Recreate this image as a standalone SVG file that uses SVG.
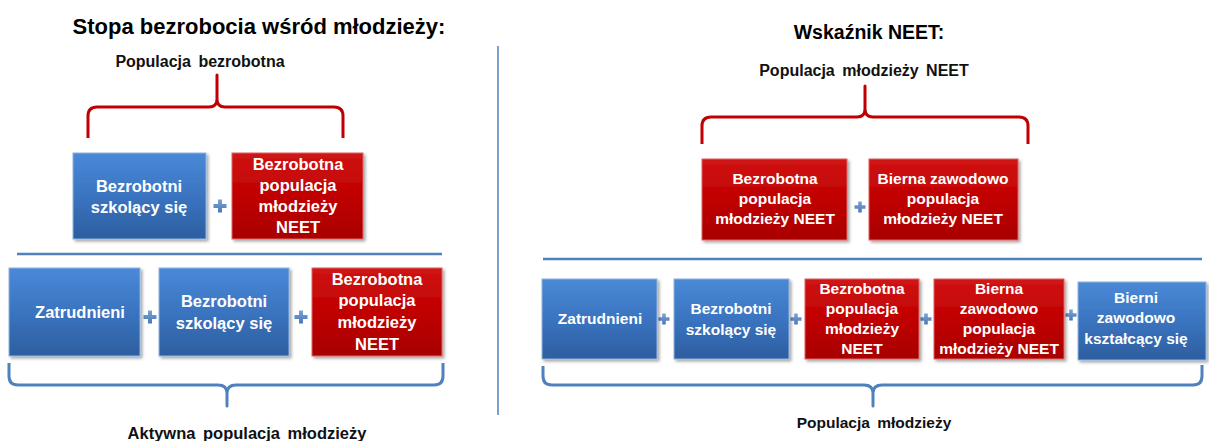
<svg xmlns="http://www.w3.org/2000/svg" width="1209" height="441" viewBox="0 0 1209 441">
<style>
  text { font-family: "Liberation Sans", Arial, sans-serif; font-weight: bold; }
  .title { font-size: 22px; fill: #000; }
  .label { font-size: 16px; fill: #111; word-spacing: 3px; }
  .bt { font-size: 16.5px; fill: #fff; text-anchor: middle; }
  .bs { font-size: 15.5px; fill: #fff; text-anchor: middle; }
  .blue { fill: url(#gBlue); stroke: #8fb4e3; stroke-width: 1; filter: url(#sh); }
  .red { fill: url(#gRed); stroke: #e06060; stroke-width: 1; filter: url(#sh); }
  .braceR { fill: none; stroke: #c00000; stroke-width: 3; stroke-linejoin: round; }
  .braceB { fill: none; stroke: #4f81bd; stroke-width: 3; stroke-linejoin: round; }
  .sep { stroke: #4f81bd; stroke-width: 2.5; }
  .plus { fill: url(#gPlus); }
</style>
<defs>
  <linearGradient id="gBlue" x1="0" y1="0" x2="0" y2="1">
    <stop offset="0" stop-color="#4a89d6"/>
    <stop offset="0.5" stop-color="#3a74c0"/>
    <stop offset="1" stop-color="#2d5e9f"/>
  </linearGradient>
  <linearGradient id="gRed" x1="0" y1="0" x2="0" y2="1">
    <stop offset="0" stop-color="#d01414"/>
    <stop offset="0.5" stop-color="#c00000"/>
    <stop offset="1" stop-color="#a80000"/>
  </linearGradient>
  <linearGradient id="gPlus" x1="0" y1="0" x2="0" y2="1">
    <stop offset="0" stop-color="#7aa3d6"/>
    <stop offset="1" stop-color="#4a78b5"/>
  </linearGradient>
  <filter id="sh" x="-10%" y="-10%" width="125%" height="130%">
    <feDropShadow dx="2" dy="2" stdDeviation="1.5" flood-color="#000" flood-opacity="0.35"/>
  </filter>
  <path id="plus" d="M-6.5,-2 H-2 V-6.5 H2 V-2 H6.5 V2 H2 V6.5 H-2 V2 H-6.5 Z"/>
  <path id="plusS" d="M-5.5,-1.8 H-1.8 V-5.5 H1.8 V-1.8 H5.5 V1.8 H1.8 V5.5 H-1.8 V1.8 H-5.5 Z"/>
</defs>

<rect x="0" y="0" width="1209" height="441" fill="#fff"/>

<!-- Titles and labels -->
<g id="titles">
  <text class="title" x="259" y="34" text-anchor="middle">Stopa bezrobocia wśród młodzieży:</text>
  <text class="label" x="200" y="67" text-anchor="middle">Populacja bezrobotna</text>
  <text class="label" x="247" y="439" text-anchor="middle" style="font-size:16.5px">Aktywna populacja młodzieży</text>
  <text class="title" x="869" y="39" text-anchor="middle" style="font-size:19.5px">Wskaźnik NEET:</text>
  <text class="label" x="864" y="76" text-anchor="middle">Populacja młodzieży NEET</text>
  <text class="label" x="874" y="428" text-anchor="middle" style="font-size:15.5px">Populacja młodzieży</text>
</g>

<!-- Connectors: braces, separators, operators -->
<g id="connectors">
  <line x1="498" y1="46" x2="498" y2="415" stroke="#4f81bd" stroke-width="1.5"/>
  <line class="sep" x1="17" y1="254" x2="442" y2="254"/>
  <line class="sep" x1="543" y1="259" x2="1202" y2="259"/>
  <path class="braceR" d="M88,138 V116 Q88,107 97,107 H209 Q217,107 217,99 V75 V99 Q217,107 225,107 H334 Q343,107 343,116 V138"/>
  <path class="braceR" d="M702,144 V126 Q702,117 711,117 H857 Q865,117 865,109 V86 V109 Q865,117 873,117 H1019 Q1028,117 1028,126 V144"/>
  <path class="braceB" d="M9,363 V376 Q9,385 18,385 H218 Q227,385 227,393 V406 V393 Q227,385 236,385 H434 Q443,385 443,376 V363"/>
  <path class="braceB" d="M543,366 V376 Q543,385 552,385 H864 Q873,385 873,393 V406 V393 Q873,385 882,385 H1193 Q1202,385 1202,376 V365"/>
  <use href="#plus" class="plus" x="220" y="206"/>
  <use href="#plus" class="plus" x="150" y="317"/>
  <use href="#plus" class="plus" x="301" y="317"/>
  <use href="#plusS" class="plus" x="860" y="207"/>
  <use href="#plusS" class="plus" x="664" y="319"/>
  <use href="#plusS" class="plus" x="796" y="319"/>
  <use href="#plusS" class="plus" x="926" y="319"/>
  <use href="#plusS" class="plus" x="1071" y="315"/>
</g>

<!-- Left side, row 1 -->
<g id="l1-bezrobotni">
  <rect class="blue" x="73" y="153" width="133" height="86"/>
  <text class="bt" x="139" y="192">Bezrobotni</text>
  <text class="bt" x="139" y="213">szkolący się</text>
</g>
<g id="l1-neet">
  <rect class="red" x="232" y="153" width="131" height="86"/>
  <text class="bt" x="298" y="170">Bezrobotna</text>
  <text class="bt" x="298" y="191">populacja</text>
  <text class="bt" x="298" y="212">młodzieży</text>
  <text class="bt" x="298" y="233">NEET</text>
</g>

<!-- Left side, row 2 -->
<g id="l2-zatrudnieni">
  <rect class="blue" x="9" y="268" width="131" height="88"/>
  <text class="bt" x="80" y="318">Zatrudnieni</text>
</g>
<g id="l2-bezrobotni">
  <rect class="blue" x="159" y="268" width="130" height="88"/>
  <text class="bt" x="224" y="307">Bezrobotni</text>
  <text class="bt" x="224" y="329">szkolący się</text>
</g>
<g id="l2-neet">
  <rect class="red" x="312" y="268" width="130" height="88"/>
  <text class="bt" x="377" y="285">Bezrobotna</text>
  <text class="bt" x="377" y="306">populacja</text>
  <text class="bt" x="377" y="328">młodzieży</text>
  <text class="bt" x="377" y="350">NEET</text>
</g>

<!-- Right side, row 1 -->
<g id="r1-bezrobotna">
  <rect class="red" x="702" y="159" width="145" height="81"/>
  <text class="bs" x="775" y="184">Bezrobotna</text>
  <text class="bs" x="775" y="204">populacja</text>
  <text class="bs" x="775" y="224">młodzieży NEET</text>
</g>
<g id="r1-bierna">
  <rect class="red" x="869" y="159" width="149" height="81"/>
  <text class="bs" x="943" y="184">Bierna zawodowo</text>
  <text class="bs" x="943" y="204">populacja</text>
  <text class="bs" x="943" y="224">młodzieży NEET</text>
</g>

<!-- Right side, row 2 -->
<g id="r2-zatrudnieni">
  <rect class="blue" x="542" y="279" width="115" height="80"/>
  <text class="bs" x="600" y="324">Zatrudnieni</text>
</g>
<g id="r2-bezrobotni">
  <rect class="blue" x="674" y="279" width="115" height="80"/>
  <text class="bs" x="731" y="314">Bezrobotni</text>
  <text class="bs" x="731" y="335">szkolący się</text>
</g>
<g id="r2-bezrobotna">
  <rect class="red" x="805" y="279" width="114" height="80"/>
  <text class="bs" x="862" y="294">Bezrobotna</text>
  <text class="bs" x="862" y="314">populacja</text>
  <text class="bs" x="862" y="334">młodzieży</text>
  <text class="bs" x="862" y="354">NEET</text>
</g>
<g id="r2-bierna">
  <rect class="red" x="934" y="279" width="130" height="80"/>
  <text class="bs" x="999" y="294">Bierna</text>
  <text class="bs" x="999" y="314">zawodowo</text>
  <text class="bs" x="999" y="334">populacja</text>
  <text class="bs" x="999" y="354">młodzieży NEET</text>
</g>
<g id="r2-bierni">
  <rect class="blue" x="1078" y="282" width="128" height="78"/>
  <text class="bs" x="1136" y="303">Bierni</text>
  <text class="bs" x="1136" y="323">zawodowo</text>
  <text class="bs" x="1136" y="344">kształcący się</text>
</g>
</svg>
